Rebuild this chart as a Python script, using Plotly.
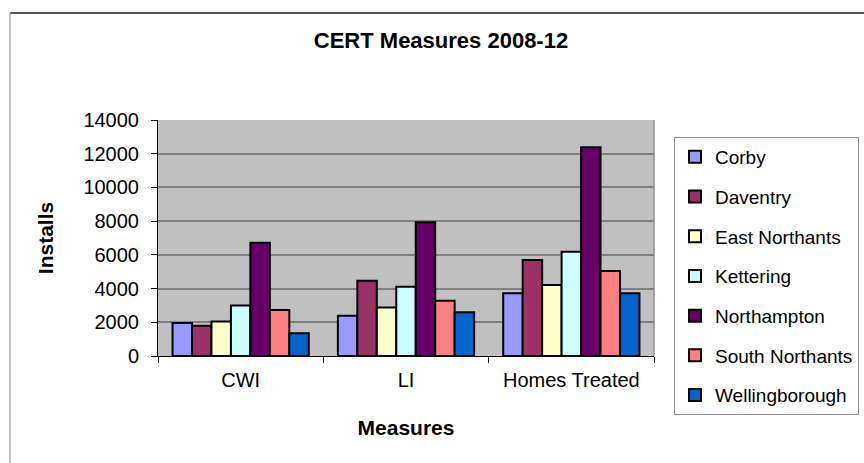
import plotly.graph_objects as go

# CERT installs by district, 2008-12
measures = ["CWI", "LI", "Homes Treated"]
districts = ["Corby", "Daventry", "East Northants", "Kettering",
             "Northampton", "South Northants", "Wellingborough"]

corby = [1960, 2390, 3720]
daventry = [1800, 4470, 5690]
east_northants = [2040, 2870, 4210]
kettering = [2990, 4110, 6190]
northampton = [6720, 7930, 12380]
south_northants = [2730, 3280, 5040]
wellingborough = [1350, 2590, 3720]

series = [corby, daventry, east_northants, kettering,
          northampton, south_northants, wellingborough]
colors = ["#9999FF", "#993366", "#FFFFCC", "#CCFFFF",
          "#660066", "#FF8080", "#0066CC"]

y_ticks = [0, 2000, 4000, 6000, 8000, 10000, 12000, 14000]

W, H = 864, 463
L, R, T, B = 158, 210, 120, 107
pw = W - L - R
ph = H - T - B

FONT = "Liberation Sans, Arial, sans-serif"

fig = go.Figure()
for name, vals, col in zip(districts, series, colors):
    fig.add_trace(go.Bar(
        x=measures, y=vals, name=name, legendgroup=name,
        marker=dict(color=col, line=dict(color="#000000", width=2)),
    ))


def px_x(px):
    return (px - L) / pw


def px_y(py):
    return (H - B - py) / ph


shapes = [
    # outer chart frame
    dict(type="line", xref="paper", yref="paper",
         x0=px_x(10), x1=px_x(W + 5), y0=px_y(13), y1=px_y(13),
         line=dict(color="#222222", width=1.5), layer="above"),
    dict(type="line", xref="paper", yref="paper",
         x0=px_x(10), x1=px_x(10), y0=px_y(13), y1=px_y(H + 5),
         line=dict(color="#b0b0b0", width=1.5), layer="above"),
    # plot area edge
    dict(type="line", xref="paper", yref="paper",
         x0=1, x1=1, y0=0, y1=1,
         line=dict(color="#909090", width=1.5), layer="below"),
]

fig.update_layout(
    width=W, height=H,
    margin=dict(l=L, r=R, t=T, b=B, autoexpand=False),
    paper_bgcolor="#ffffff",
    plot_bgcolor="#C0C0C0",
    font=dict(family=FONT, size=20, color="#000000"),
    barmode="group",
    bargap=0.176,
    bargroupgap=0,
    title=dict(text="<b>CERT Measures 2008-12</b>", x=441 / W, xref="container",
               xanchor="center", y=1 - 40 / H, yref="container", yanchor="middle",
               font=dict(family=FONT, size=22, color="#000000")),
    xaxis=dict(
        title=dict(text="<b>Measures</b>", font=dict(size=21), standoff=30),
        tickson="boundaries", ticks="outside", ticklen=6, tickwidth=1,
        tickcolor="#000000", showline=True, linecolor="#000000", linewidth=1,
        showgrid=False, tickfont=dict(size=20), ticklabelstandoff=6,
    ),
    yaxis=dict(
        title=dict(text="<b>Installs</b>", font=dict(size=21), standoff=24),
        range=[0, 14000], tickvals=y_ticks,
        ticktext=[str(v) for v in y_ticks],
        ticks="outside", ticklen=6, tickwidth=1, tickcolor="#000000",
        showline=True, linecolor="#000000", linewidth=1,
        showgrid=True, gridcolor="#808080", gridwidth=1.5,
        zeroline=False, tickfont=dict(size=20), ticklabelstandoff=8,
    ),
    legend=dict(
        x=px_x(674), xanchor="left", y=px_y(137), yanchor="top",
        bgcolor="#ffffff", bordercolor="#909090", borderwidth=1,
        font=dict(size=19), tracegroupgap=12, traceorder="grouped",
        entrywidth=215, maxheight=440, itemclick=False,
    ),
    shapes=shapes,
)

fig.write_html("out.html")
